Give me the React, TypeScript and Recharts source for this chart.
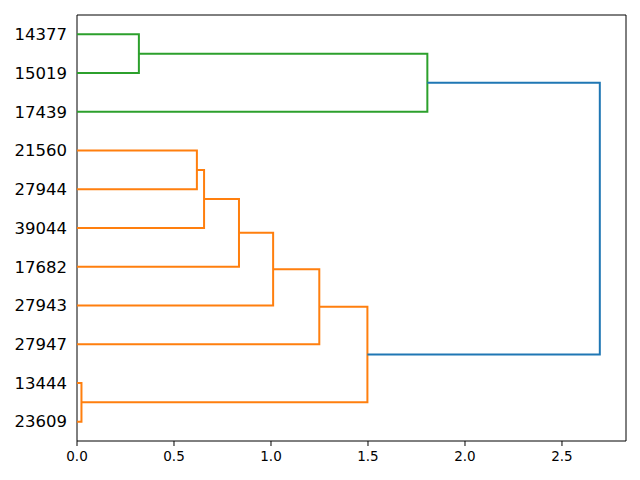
import React from 'react';
import { ScatterChart, Scatter, XAxis, YAxis, ReferenceLine } from 'recharts';

// leaf labels, bottom to top (scipy puts leaves at 5, 15, 25, ...)
const leafLabels = ['23609', '13444', '27947', '27943', '17682', '39044', '27944', '21560', '17439', '15019', '14377'];

// linkage rows: node ids < 11 are leaves, ids >= 11 are earlier merges
const mergeA = [0, 9, 6, 5, 4, 3, 2, 11, 8, 18];
const mergeB = [1, 10, 7, 13, 14, 15, 16, 17, 12, 19];
const mergeHeight = [0.023, 0.319, 0.618, 0.655, 0.835, 1.011, 1.249, 1.497, 1.806, 2.695];
const mergeColor = ['#ff7f0e', '#2ca02c', '#ff7f0e', '#ff7f0e', '#ff7f0e', '#ff7f0e', '#ff7f0e', '#ff7f0e', '#2ca02c', '#1f77b4'];

const xTicks = [0, 0.5, 1, 1.5, 2, 2.5];
const yTicks = leafLabels.map((_, i) => 5 + 10 * i);
const xMax = 2.83;
const yMax = 110;

const font = 'DejaVu Sans, sans-serif';

// build the U-shaped links from the linkage
const buildLinks = () => {
  const pos: number[] = leafLabels.map((_, i) => 5 + 10 * i);
  const h: number[] = leafLabels.map(() => 0);
  return mergeA.map((a, k) => {
    const b = mergeB[k];
    const d = mergeHeight[k];
    pos.push((pos[a] + pos[b]) / 2);
    h.push(d);
    return {
      color: mergeColor[k],
      points: [
        { x: h[a], y: pos[a] },
        { x: d, y: pos[a] },
        { x: d, y: pos[b] },
        { x: h[b], y: pos[b] },
      ],
    };
  });
};

const links = buildLinks();

const NoDot = () => <g />;

export default function App() {
  return (
    <div style={{ position: 'absolute', left: 0, top: 0, background: '#fff' }}>
      <ScatterChart width={640} height={480} margin={{ top: 15, right: 14, bottom: 0, left: 0 }}>
        <XAxis
          dataKey="x"
          type="number"
          domain={[0, xMax]}
          ticks={xTicks}
          tickFormatter={(v: number) => v.toFixed(1)}
          allowDataOverflow
          stroke="#000"
          tickSize={5}
          tickMargin={5}
          height={39}
          tick={{ fill: '#000', fontSize: 13.5, fontFamily: font }}
        />
        <YAxis
          dataKey="y"
          type="number"
          domain={[0, yMax]}
          ticks={yTicks}
          tickFormatter={(v: number) => leafLabels[Math.round((v - 5) / 10)]}
          allowDataOverflow
          stroke="#000"
          tickLine={false}
          tickSize={8}
          tickMargin={2}
          width={77}
          tick={{ fill: '#000', fontSize: 16.5, fontFamily: font }}
        />
        {/* top and right spines */}
        <ReferenceLine y={yMax} stroke="#000" strokeWidth={1} />
        <ReferenceLine x={xMax} stroke="#000" strokeWidth={1} />
        {links.map((l, i) => (
          <Scatter
            key={i}
            data={l.points}
            line={{ stroke: l.color, strokeWidth: 2 }}
            shape={NoDot}
            isAnimationActive={false}
          />
        ))}
      </ScatterChart>
    </div>
  );
}
